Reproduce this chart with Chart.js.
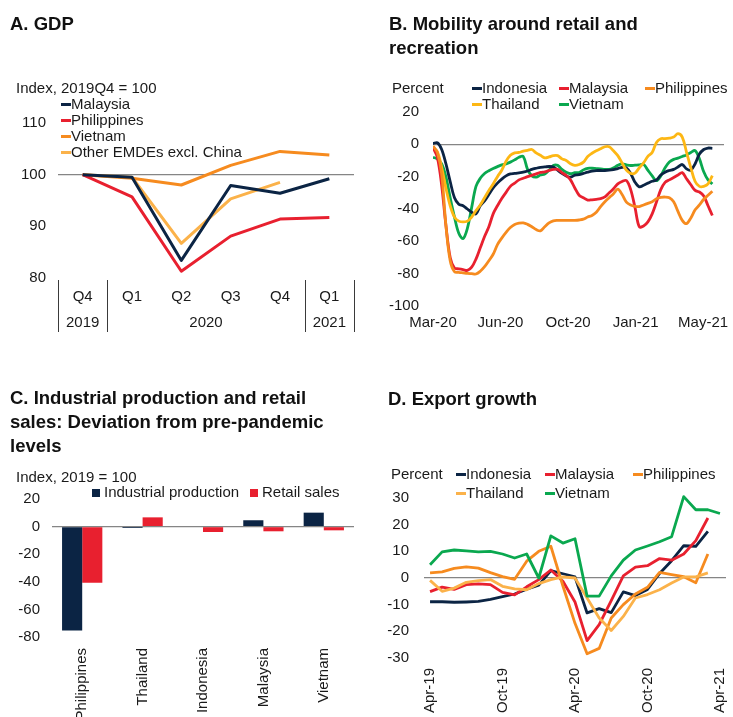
<!DOCTYPE html>
<html>
<head>
<meta charset="utf-8">
<script src="https://cdn.jsdelivr.net/npm/chart.js@4.4.1/dist/chart.umd.min.js"></script>
<style>
  body { margin: 0; background: #fff; width: 733px; height: 717px; overflow: hidden; position: relative;
         font-family: "Liberation Sans", Arial, Helvetica, sans-serif; color: #1a1a1a; }
  canvas { position: absolute; }
  .t { position: absolute; white-space: nowrap; font-size: 15px; line-height: 15px; }
  .h { position: absolute; white-space: nowrap; font-size: 18.5px; font-weight: bold; line-height: 24px; color: #111; }
  .m { position: absolute; width: 10px; height: 3px; }
  .s { position: absolute; width: 8px; height: 8px; }
</style>
</head>
<body>
<canvas id="gdp" width="366" height="358" style="left:0;top:0"></canvas>
<canvas id="mobility" width="367" height="358" style="left:366px;top:0"></canvas>
<canvas id="industry" width="366" height="359" style="left:0;top:358px"></canvas>
<canvas id="exports" width="367" height="359" style="left:366px;top:358px"></canvas>
<script>
// ---------- A. GDP ----------
const gdpQuarters = ['Q4', 'Q1', 'Q2', 'Q3', 'Q4', 'Q1'];
const gdpYears = ['2019', '2020', '2021'];
const gdpYearSpan = [1, 4, 1];
const gdpTicks = [80, 90, 100, 110];
const gdpMalaysia = [100, 99.5, 83.4, 97.9, 96.4, 99.2];
const gdpPhilippines = [100, 95.7, 81.3, 88.1, 91.4, 91.7];
const gdpVietnam = [100, 99.3, 98.0, 101.8, 104.5, 103.8];
const gdpOtherEMDE = [100, 99.5, 86.7, 95.3, 98.5, null];

// ---------- B. Mobility around retail and recreation (days since 1 Mar 2020) ----------
const mobilityDay = [0, 7, 14, 21, 28, 35, 42, 49, 56, 63, 70, 77, 84, 91, 98, 105, 112, 119, 126, 133,
  140, 147, 154, 161, 168, 175, 182, 189, 196, 203, 210, 217, 224, 231, 238, 245, 252, 259, 266, 273,
  280, 287, 294, 301, 308, 315, 322, 329, 336, 343, 350, 357, 364, 371, 378, 385, 392, 399, 406, 413,
  420, 427, 434, 441, 448, 455];
const mobilityTickDay = [0, 110, 220, 330, 440];
const mobilityTickLabel = ['Mar-20', 'Jun-20', 'Oct-20', 'Jan-21', 'May-21'];
const mobilityTicksY = [-100, -80, -60, -40, -20, 0, 20];
const mobIndonesia = [0.5, 1, -3, -12, -23, -33, -37, -38, -40, -42, -43, -38, -35, -31, -27, -24, -21.5, -19.5, -18.3, -18,
  -17.6, -17.2, -16.5, -15.5, -14.8, -14.2, -14, -13.7, -14, -16, -18, -19.5, -20.3, -19, -18.8, -18, -17.2, -16.5, -16.2, -16.2,
  -16.2, -16, -15.6, -15, -14.2, -14.5, -18, -23.4, -26.3, -25.3, -24, -22.8, -22, -19, -17.2, -16.2, -15.5, -14, -12.5, -15.2,
  -16, -12, -6, -3.2, -2.3, -2.5];
const mobMalaysia = [-2, -8, -25, -50, -70, -76.5, -77, -77.5, -78, -76, -71, -64, -57, -51, -43, -38, -33.5, -29.7, -26, -24,
  -22, -21, -20, -19.2, -18.3, -17.4, -17, -16.2, -15.5, -15.5, -17.5, -19.3, -22, -27, -31.5, -33, -34.5, -34.3, -34, -33.6,
  -32.5, -30, -27.5, -24.5, -23, -22.4, -28, -39, -51, -50.5, -48, -43, -35.7, -28, -23.5, -22, -20.5, -19, -17.5, -21.3,
  -25, -28.5, -29.5, -32, -38, -44];
const mobPhilippines = [-1, -5, -18, -50, -72, -78.8, -79.2, -79.5, -79.8, -80, -80.2, -78.5, -75.7, -72, -68, -62, -58, -54.5, -51.5, -49.6,
  -48.8, -48.6, -49.5, -51, -52.7, -53.5, -51, -48.6, -47.3, -47, -47, -47, -47, -47, -46.8, -46.3, -45, -44, -42, -38.5,
  -35.5, -33, -30.5, -27.7, -31, -35.7, -37.5, -38.3, -38.5, -37.5, -36.5, -35.5, -33.6, -32.8, -32.6, -33, -35.5, -41.5, -47, -49,
  -45.5, -40.5, -37.5, -34, -31.5, -29];
const mobThailand = [-2, -4.5, -14, -27, -38, -45, -47.5, -48, -47.5, -45, -41, -37.5, -33, -28.5, -24.5, -20, -16, -10.5, -6.8, -5.3,
  -5, -4.2, -3.7, -3.2, -5.3, -6.8, -8.3, -7.8, -7, -7, -9, -10, -12, -13, -12.5, -11, -7.5, -5.5, -4, -2.7,
  -1.5, -1.5, -4, -7, -11.5, -16, -18, -17.8, -14.5, -11.5, -7.5, -5, 1.2, 3.5, 3.5, 3.8, 4.5, 6.6, 4.5, -4.9,
  -14.5, -23, -26, -26, -24.5, -19.3];
const mobVietnam = [-8, -9, -12, -20, -33, -45, -55, -58.3, -52, -39, -26, -21, -18, -16.3, -15, -13.8, -12.7, -12.1, -11, -9.6,
  -8, -7.5, -15.5, -19.5, -20.3, -19, -18.3, -16, -13.1, -13, -15.5, -17.2, -18.2, -17.5, -17.5, -15.8, -14.8, -14.8, -15, -15.2,
  -15.5, -15.5, -14.5, -13, -12.1, -12.7, -13.1, -12.9, -12.7, -12.4, -16, -19.5, -22.5, -19.5, -14.5, -11, -9.3, -8.5, -7.5, -6.6,
  -5, -3.9, -9, -17, -22, -24.5];

// ---------- C. Industrial production and retail sales ----------
const ipCountries = ['Philippines', 'Thailand', 'Indonesia', 'Malaysia', 'Vietnam'];
const ipTicks = [-80, -60, -40, -20, 0, 20];
const industrialProduction = [-75.2, -1, 0, 4.6, 10.1];
const retailSales = [-40.7, 6.7, -3.9, -3.4, -2.7];

// ---------- D. Export growth ----------
const exportMonths = ['Apr-19', 'May-19', 'Jun-19', 'Jul-19', 'Aug-19', 'Sep-19', 'Oct-19', 'Nov-19', 'Dec-19',
  'Jan-20', 'Feb-20', 'Mar-20', 'Apr-20', 'May-20', 'Jun-20', 'Jul-20', 'Aug-20', 'Sep-20', 'Oct-20', 'Nov-20',
  'Dec-20', 'Jan-21', 'Feb-21', 'Mar-21', 'Apr-21'];
const exportTicks = [-30, -20, -10, 0, 10, 20, 30];
const expIndonesia = [-8.9, -8.9, -9.1, -9, -8.8, -8, -7, -6, -4.2, -2.7, 2.8, 1.6, 0.4, -13.1, -11.5, -13, -5.2, -6.6, -4.3, 1.7, 6.5, 12.1, 11.9, 17.5, null];
const expMalaysia = [-5.1, -3.4, -4.3, -2.5, -2.2, -2.5, -5.4, -6.3, -3.3, -0.6, 3, -1.2, -9, -23.5, -17.5, -8.5, 0.8, 4.1, 4.6, 7.3, 6.7, 9, 14, 22.5, null];
const expPhilippines = [1.9, 2.3, 3.6, 4.2, 3.7, 2, 0.5, -0.5, 6.3, 10, 11.9, -3, -17, -28.4, -26.4, -15, -10, -6, -3.5, 2.1, 1.3, 0.5, -1.8, 9, null];
const expThailand = [-0.9, -5, -3.8, -1.6, -1, -0.6, -3.1, -4.1, -4.4, -2.1, -0.6, 0.4, 0, -7.5, -15, -19.7, -14.4, -7.5, -6.2, -4.4, -1.9, 0.4, 0.4, 1.9, null];
const expVietnam = [5, 9.8, 10.5, 10.2, 9.8, 10, 9, 7.5, 9, 0, 15.8, 13.1, 14.7, -6.8, -6.8, 0.8, 6.7, 10.5, 12, 13.6, 15.5, 30.5, 25.6, 25.6, 24.2];

// ---------- palette ----------
const NAVY = '#0b2444', RED = '#e8202f', ORANGE = '#f68b1f', GOLD = '#fdb714', LIGHT_ORANGE = '#fbb24a', GREEN = '#0aa84f';
const ZERO_LINE = '#858585';

Chart.defaults.font.family = '"Liberation Sans", Arial, Helvetica, sans-serif';
Chart.defaults.font.size = 15;
Chart.defaults.color = '#1a1a1a';
Chart.defaults.animation = false;
Chart.defaults.responsive = false;
Chart.defaults.devicePixelRatio = 1;
Chart.defaults.plugins.legend.display = false;
Chart.defaults.plugins.tooltip.enabled = false;
Chart.defaults.elements.point.radius = 0;
Chart.defaults.elements.line.borderJoinStyle = 'round';

// fixed axis boxes so every plot area lands where it should
function fixWidth(w) {
  return s => { s.width = w; s.paddingTop = s.paddingBottom = s.paddingLeft = s.paddingRight = 0; };
}
function fixHeight(h) {
  return s => { s.height = h; s.paddingTop = s.paddingBottom = s.paddingLeft = s.paddingRight = 0; };
}
function useTicks(values) {
  return s => { s.ticks = values.map(v => ({ value: v })); };
}
function refLine(v) {
  return {
    drawTicks: false,
    color: c => (c.tick && c.tick.value === v) ? ZERO_LINE : 'rgba(0,0,0,0)',
    lineWidth: 1.2
  };
}
function seriesLine(label, data, color, width) {
  return { label, data, borderColor: color, backgroundColor: color, borderWidth: width, fill: false, spanGaps: false };
}

// year bands under the quarter labels of panel A
const gdpYearAxis = {
  id: 'gdpYearAxis',
  afterDraw(chart) {
    const x = chart.scales.x, ctx = chart.ctx;
    const step = x.getPixelForValue(1) - x.getPixelForValue(0);
    const top = chart.chartArea.bottom + 2, bottom = top + 52;
    ctx.save();
    ctx.font = '15px "Liberation Sans", Arial, sans-serif';
    ctx.fillStyle = '#1a1a1a';
    ctx.textAlign = 'center';
    ctx.textBaseline = 'middle';
    ctx.strokeStyle = '#3a3a3a';
    ctx.lineWidth = 1;
    const edges = [x.getPixelForValue(0) - step / 2];
    let idx = 0;
    gdpYearSpan.forEach((n, k) => {
      const left = x.getPixelForValue(idx) - step / 2;
      const right = x.getPixelForValue(idx + n - 1) + step / 2;
      edges.push(right);
      ctx.fillText(gdpYears[k], (left + right) / 2, chart.chartArea.bottom + 45);
      idx += n;
    });
    edges.forEach(e => {
      const px = Math.round(e) + 0.5;
      ctx.beginPath(); ctx.moveTo(px, top); ctx.lineTo(px, bottom); ctx.stroke();
    });
    ctx.restore();
  }
};

// ---------- A ----------
new Chart(document.getElementById('gdp'), {
  type: 'line',
  data: {
    labels: gdpQuarters,
    datasets: [
      seriesLine('Malaysia', gdpMalaysia, NAVY, 3),
      seriesLine('Philippines', gdpPhilippines, RED, 3),
      seriesLine('Vietnam', gdpVietnam, ORANGE, 3),
      seriesLine('Other EMDEs excl. China', gdpOtherEMDE, LIGHT_ORANGE, 3)
    ]
  },
  options: {
    layout: { padding: { left: 0, top: 123, right: 12, bottom: 0 } },
    scales: {
      x: { type: 'category', offset: true, grid: { display: false, drawTicks: false }, border: { display: false },
           ticks: { padding: 10, autoSkip: false, maxRotation: 0 }, afterFit: fixHeight(80) },
      y: { min: 80, max: 110, grid: refLine(100), border: { display: false },
           ticks: { padding: 12 }, afterBuildTicks: useTicks(gdpTicks), afterFit: fixWidth(58) }
    }
  },
  plugins: [gdpYearAxis]
});

// ---------- B ----------
const toXY = arr => arr.map((v, i) => ({ x: mobilityDay[i], y: v }));
new Chart(document.getElementById('mobility'), {
  type: 'line',
  data: {
    datasets: [
      seriesLine('Philippines', toXY(mobPhilippines), ORANGE, 2.8),
      seriesLine('Malaysia', toXY(mobMalaysia), RED, 2.8),
      seriesLine('Thailand', toXY(mobThailand), GOLD, 2.8),
      seriesLine('Indonesia', toXY(mobIndonesia), NAVY, 2.8),
      seriesLine('Vietnam', toXY(mobVietnam), GREEN, 2.8)
    ].map(d => Object.assign(d, { tension: 0.35 }))
  },
  options: {
    layout: { padding: { left: 0, top: 112, right: 9, bottom: 0 } },
    scales: {
      x: { type: 'linear', min: 0, max: 474, grid: { display: false, drawTicks: false }, border: { display: false },
           ticks: { padding: 8, autoSkip: false, maxRotation: 0,
                    callback: v => mobilityTickLabel[mobilityTickDay.indexOf(v)] },
           afterBuildTicks: useTicks(mobilityTickDay), afterFit: fixHeight(52) },
      y: { min: -100, max: 20, grid: refLine(0), border: { display: false },
           ticks: { padding: 14 }, afterBuildTicks: useTicks(mobilityTicksY), afterFit: fixWidth(67) }
    }
  }
});

// ---------- C ----------
new Chart(document.getElementById('industry'), {
  type: 'bar',
  data: {
    labels: ipCountries,
    datasets: [
      { label: 'Industrial production', data: industrialProduction, backgroundColor: NAVY, categoryPercentage: 0.667, barPercentage: 1 },
      { label: 'Retail sales', data: retailSales, backgroundColor: RED, categoryPercentage: 0.667, barPercentage: 1 }
    ]
  },
  options: {
    layout: { padding: { left: 0, top: 141, right: 12, bottom: 0 } },
    scales: {
      x: { grid: { display: false, drawTicks: false }, border: { display: false },
           ticks: { padding: 11, autoSkip: false, minRotation: 90, maxRotation: 90 }, afterFit: fixHeight(80) },
      y: { min: -80, max: 20, grid: refLine(0), border: { display: false },
           ticks: { padding: 12 }, afterBuildTicks: useTicks(ipTicks), afterFit: fixWidth(52) }
    }
  }
});

// ---------- D ----------
new Chart(document.getElementById('exports'), {
  type: 'line',
  data: {
    labels: exportMonths,
    datasets: [
      seriesLine('Vietnam', expVietnam, GREEN, 2.8),
      seriesLine('Thailand', expThailand, LIGHT_ORANGE, 2.8),
      seriesLine('Philippines', expPhilippines, ORANGE, 2.8),
      seriesLine('Malaysia', expMalaysia, RED, 2.8),
      seriesLine('Indonesia', expIndonesia, NAVY, 2.8)
    ].map(d => Object.assign(d, { clip: false }))
  },
  options: {
    layout: { padding: { left: 0, top: 140, right: 7, bottom: 0 } },
    scales: {
      x: { type: 'category', offset: true, grid: { display: false, drawTicks: false }, border: { display: false },
           ticks: { padding: 10, autoSkip: false, minRotation: 90, maxRotation: 90,
                    callback: (v, i) => (i % 6 === 0 ? exportMonths[i] : '') },
           afterFit: fixHeight(59) },
      y: { min: -30, max: 30, grid: refLine(0), border: { display: false },
           ticks: { padding: 15 }, afterBuildTicks: useTicks(exportTicks), afterFit: fixWidth(58) }
    }
  }
});

// ---------- titles, units and legends ----------
function addText(str, x, baseline, cls) {
  const d = document.createElement('div');
  d.className = cls;
  d.innerHTML = str;
  d.style.left = x + 'px';
  d.style.top = (baseline - (cls === 'h' ? 18.4 : 12.7)) + 'px';
  document.body.appendChild(d);
}
function addMarker(x, baseline, color) {
  const d = document.createElement('div');
  d.className = 'm';
  d.style.left = x + 'px';
  d.style.top = (baseline - 6.5) + 'px';
  d.style.background = color;
  document.body.appendChild(d);
}
function addSwatch(x, baseline, color) {
  const d = document.createElement('div');
  d.className = 's';
  d.style.left = x + 'px';
  d.style.top = (baseline - 8) + 'px';
  d.style.background = color;
  document.body.appendChild(d);
}
function legendItem(name, color, x, baseline) {
  addMarker(x, baseline, color);
  addText(name, x + 10, baseline, 't');
}

addText('A. GDP', 10, 30, 'h');
addText('Index, 2019Q4 = 100', 16, 93, 't');
legendItem('Malaysia', NAVY, 61, 109);
legendItem('Philippines', RED, 61, 125);
legendItem('Vietnam', ORANGE, 61, 141);
legendItem('Other EMDEs excl. China', LIGHT_ORANGE, 61, 157);

addText('B. Mobility around retail and<br>recreation', 389, 30, 'h');
addText('Percent', 392, 93, 't');
legendItem('Indonesia', NAVY, 472, 93);
legendItem('Malaysia', RED, 559, 93);
legendItem('Philippines', ORANGE, 645, 93);
legendItem('Thailand', GOLD, 472, 109);
legendItem('Vietnam', GREEN, 559, 109);

addText('C. Industrial production and retail<br>sales: Deviation from pre-pandemic<br>levels', 10, 404, 'h');
addText('Index, 2019 = 100', 16, 482, 't');
addSwatch(92, 497, NAVY);
addText('Industrial production', 104, 497, 't');
addSwatch(250, 497, RED);
addText('Retail sales', 262, 497, 't');

addText('D. Export growth', 388, 405, 'h');
addText('Percent', 391, 479, 't');
legendItem('Indonesia', NAVY, 456, 479);
legendItem('Malaysia', RED, 545, 479);
legendItem('Philippines', ORANGE, 633, 479);
legendItem('Thailand', LIGHT_ORANGE, 456, 498);
legendItem('Vietnam', GREEN, 545, 498);
</script>
</body>
</html>
